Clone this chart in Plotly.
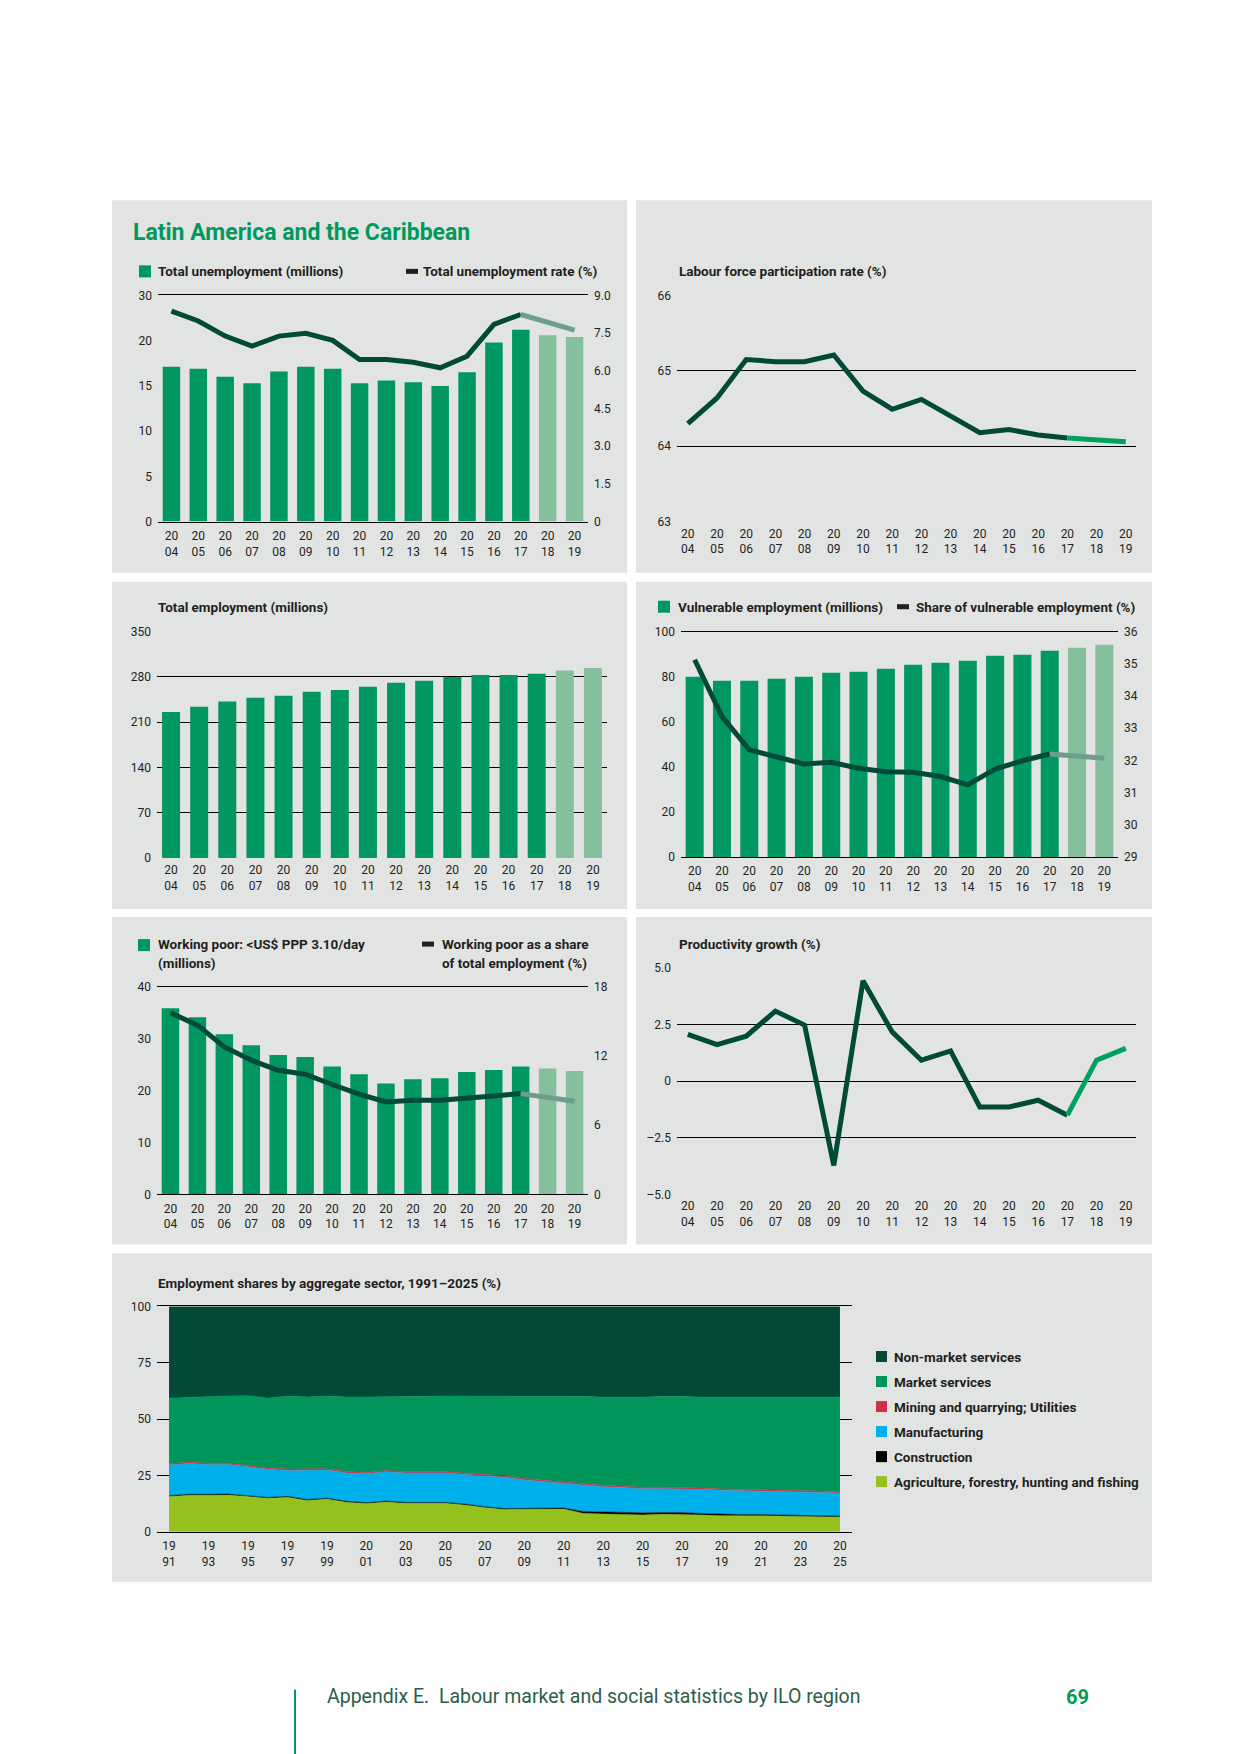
import plotly.graph_objects as go

W, H = 1240, 1754

# ---------------- data ----------------
years = list(range(2004, 2020))
last_actual_year = 2017

unemp_millions = [17.1, 16.9, 16.0, 15.3, 16.6, 17.1, 16.9, 15.3, 15.6, 15.4, 15.0, 16.5, 19.8, 21.2, 20.6, 20.4]
unemp_rate = [8.37, 7.98, 7.38, 6.98, 7.38, 7.49, 7.21, 6.45, 6.45, 6.34, 6.12, 6.58, 7.85, 8.24, 7.93, 7.62]
lfpr = [64.30, 64.64, 65.15, 65.12, 65.12, 65.21, 64.73, 64.49, 64.62, 64.40, 64.18, 64.22, 64.15, 64.11, 64.09, 64.06]
employment = [226, 234, 242, 248, 251, 257, 260, 265, 271, 274, 280, 283, 283, 285, 290, 294]
vuln_millions = [80.0, 78.2, 78.2, 79.1, 80.0, 81.8, 82.2, 83.6, 85.3, 86.2, 87.1, 89.3, 89.8, 91.6, 92.9, 94.2]
vuln_share = [35.13, 33.37, 32.33, 32.12, 31.89, 31.94, 31.76, 31.65, 31.63, 31.50, 31.24, 31.73, 31.99, 32.20, 32.15, 32.07]
wp_millions = [35.9, 34.2, 30.9, 28.8, 26.9, 26.5, 24.7, 23.2, 21.4, 22.2, 22.4, 23.6, 24.0, 24.7, 24.3, 23.8]
wp_share = [15.77, 14.70, 12.81, 11.65, 10.78, 10.43, 9.54, 8.70, 8.03, 8.17, 8.17, 8.32, 8.55, 8.75, 8.46, 8.09]
prod_growth = [2.07, 1.62, 1.99, 3.10, 2.48, -3.72, 4.44, 2.18, 0.93, 1.34, -1.14, -1.14, -0.84, -1.50, 0.93, 1.45]

sector_years = list(range(1991, 2026))
agriculture = [15.6, 16.2, 16.2, 16.3, 15.6, 14.8, 15.3, 13.9, 14.5, 13.1, 12.5, 13.2, 12.6, 12.6, 12.6, 11.9, 10.7, 9.9,
               9.9, 10.1, 10.1, 8.1, 7.9, 7.9, 7.4, 7.7, 7.7, 7.4, 7.1, 7.1, 7.1, 7.0, 6.7, 6.7, 6.5]
construction = [0.4, 0.4, 0.4, 0.4, 0.4, 0.4, 0.4, 0.4, 0.4, 0.4, 0.4, 0.4, 0.4, 0.4, 0.4, 0.4, 0.4, 0.4,
                0.4, 0.4, 0.4, 0.9, 0.8, 0.8, 1.0, 0.8, 0.8, 0.7, 0.6, 0.5, 0.5, 0.5, 0.5, 0.4, 0.4]
manufacturing = [13.7, 13.7, 13.2, 13.1, 12.8, 12.5, 11.5, 12.9, 12.5, 12.6, 12.8, 13.0, 13.1, 13.1, 13.1, 13.1, 13.7, 13.9,
                 12.7, 11.7, 11.1, 11.7, 11.3, 10.9, 10.7, 10.6, 10.6, 10.7, 10.7, 10.6, 10.3, 10.4, 10.6, 10.4, 10.3]
mining_utilities = [0.6, 0.6, 0.6, 0.6, 0.6, 0.6, 0.6, 0.6, 0.6, 0.6, 0.6, 0.6, 0.6, 0.6, 0.6, 0.6, 0.6, 0.6,
                    0.6, 0.6, 0.6, 0.6, 0.6, 0.6, 0.6, 0.6, 0.6, 0.6, 0.6, 0.6, 0.6, 0.6, 0.6, 0.6, 0.6]
market_services = [29.0, 28.8, 29.5, 29.9, 31.0, 31.0, 32.4, 32.0, 32.2, 33.1, 33.5, 32.6, 33.1, 33.4, 33.5, 34.2, 34.8, 35.4,
                   36.6, 37.6, 38.2, 38.8, 39.1, 39.5, 40.0, 40.4, 40.4, 40.3, 40.7, 40.9, 41.2, 41.2, 41.3, 41.6, 41.9]
non_market_services = [40.7, 40.3, 40.1, 39.7, 39.6, 40.7, 39.8, 40.2, 39.8, 40.2, 40.2, 40.2, 40.2, 39.9, 39.8, 39.8, 39.8, 39.8,
                       39.8, 39.6, 39.6, 39.9, 40.3, 40.3, 40.3, 39.9, 39.9, 40.3, 40.3, 40.3, 40.3, 40.3, 40.3, 40.3, 40.3]

sector_names = ["Non-market services", "Market services", "Mining and quarrying; Utilities",
                "Manufacturing", "Construction", "Agriculture, forestry, hunting and fishing"]

# ---------------- style ----------------
GREEN = "#009760"
GREEN_PROJ = "#86BF9B"
DARK = "#004A37"
LINE_PROJ_GREY = "#6E9E8B"
LINE_PROJ_GREEN = "#00A060"
PANEL = "#E2E4E3"
TXT = "#231F20"
FONT = "Roboto, 'Liberation Sans', sans-serif"
TICKFONT = dict(family=FONT, size=12, color=TXT)
LEG = 13.5
SECTOR_COLORS = {"Non-market services": "#004A37", "Market services": "#00965A",
                 "Mining and quarrying; Utilities": "#D42E45", "Manufacturing": "#00B0EB",
                 "Construction": "#000000", "Agriculture, forestry, hunting and fishing": "#95C11F"}

# vertical correction for the page capture (content appears offset/compressed vertically)
VS = 1770 / 1754
VOFF = 8


def px(x):
    return x / W


def py(y):
    return 1 - (y * VS - VOFF) / H


def xdom(x0, x1):
    return [px(x0), px(x1)]


def ydom(top, bottom):
    return [py(bottom), py(top)]


split = years.index(last_actual_year) + 1
bar_colors = [GREEN if y <= last_actual_year else GREEN_PROJ for y in years]

fig = go.Figure()
layout = dict(width=W, height=H, margin=dict(l=0, r=0, t=0, b=0), autosize=False,
              paper_bgcolor="white", plot_bgcolor="rgba(0,0,0,0)", showlegend=False,
              shapes=[], annotations=[])


def two_line(vals):
    return ["%s<br>%s" % (str(v)[:2], str(v)[2:]) for v in vals]


def xax(n, dom, rng, yname, tickvals, line=False):
    ax = dict(domain=dom, range=rng, tickmode="array", tickvals=tickvals, ticktext=two_line(tickvals),
              showgrid=False, zeroline=False, tickfont=TICKFONT, ticks="", fixedrange=True,
              anchor=yname, ticklabelstandoff=3)
    if line:
        ax.update(showline=True, linecolor="black", linewidth=1, mirror=True)
    else:
        ax.update(showline=False)
    layout["xaxis" + (str(n) if n > 1 else "")] = ax


def yax(dom, rng, tickvals, ticktext, anchor, side="left", grid=False, overlaying=None):
    d = dict(domain=dom, range=rng, tickmode="array", tickvals=tickvals, ticktext=ticktext,
             anchor=anchor, side=side, showgrid=grid, gridcolor="black", gridwidth=1,
             zeroline=False, showline=False, tickfont=TICKFONT, ticks="", ticklabelstandoff=5, fixedrange=True)
    if overlaying:
        d["overlaying"] = overlaying
    return d


def add_split_line(xs, ys, xa, ya, proj_color):
    fig.add_trace(go.Scatter(x=xs[:split], y=ys[:split], mode="lines", xaxis=xa, yaxis=ya,
                             line=dict(color=DARK, width=5), showlegend=False))
    fig.add_trace(go.Scatter(x=xs[split - 1:], y=ys[split - 1:], mode="lines", xaxis=xa, yaxis=ya,
                             line=dict(color=proj_color, width=5), showlegend=False))


bar_rng = [years[0] - 0.5, years[-1] + 0.5]
line_rng = [years[0] - 0.37, years[-1] + 0.35]

# Panel 1: unemployment
xax(1, xdom(158, 588), bar_rng, "y", years, line=True)
layout["yaxis"] = yax(ydom(296, 522), [0, 25], [0, 5, 10, 15, 20, 25], ["0", "5", "10", "15", "20", "30"], "x")
layout["yaxis2"] = yax(ydom(296, 522), [0, 9], [0, 1.5, 3, 4.5, 6, 7.5, 9],
                       ["0", "1.5", "3.0", "4.5", "6.0", "7.5", "9.0"], "x", side="right", overlaying="y")
fig.add_trace(go.Bar(x=years, y=unemp_millions, marker=dict(color=bar_colors, line=dict(width=0)), width=0.65,
                     xaxis="x", yaxis="y", showlegend=False))
add_split_line(years, unemp_rate, "x", "y2", LINE_PROJ_GREY)

# Panel 2: LFPR
xax(2, xdom(677, 1136), line_rng, "y3", years)
layout["yaxis3"] = yax(ydom(296, 522), [63, 66], [63, 64, 65, 66], ["63", "64", "65", "66"], "x2", grid=True)
add_split_line(years, lfpr, "x2", "y3", LINE_PROJ_GREEN)

# Panel 3: total employment
xax(3, xdom(157, 607), bar_rng, "y4", years)
layout["yaxis4"] = yax(ydom(632, 858), [0, 350], [0, 70, 140, 210, 280, 350],
                       ["0", "70", "140", "210", "280", "350"], "x3", grid=True)
fig.add_trace(go.Bar(x=years, y=employment, marker=dict(color=bar_colors, line=dict(width=0)), width=0.64,
                     xaxis="x3", yaxis="y4", showlegend=False))

# Panel 4: vulnerable employment
xax(4, xdom(681, 1118), bar_rng, "y5", years, line=True)
layout["yaxis5"] = yax(ydom(632, 857), [0, 100], [0, 20, 40, 60, 80, 100],
                       ["0", "20", "40", "60", "80", "100"], "x4")
layout["yaxis6"] = yax(ydom(632, 857), [29, 36], [29, 30, 31, 32, 33, 34, 35, 36],
                       ["29", "30", "31", "32", "33", "34", "35", "36"], "x4", side="right", overlaying="y5")
fig.add_trace(go.Bar(x=years, y=vuln_millions, marker=dict(color=bar_colors, line=dict(width=0)), width=0.66,
                     xaxis="x4", yaxis="y5", showlegend=False))
add_split_line(years, vuln_share, "x4", "y6", LINE_PROJ_GREY)

# Panel 5: working poor
xax(5, xdom(157, 588), bar_rng, "y7", years, line=True)
layout["yaxis7"] = yax(ydom(987, 1194), [0, 40], [0, 10, 20, 30, 40], ["0", "10", "20", "30", "40"], "x5")
layout["yaxis8"] = yax(ydom(987, 1194), [0, 18], [0, 6, 12, 18], ["0", "6", "12", "18"], "x5",
                       side="right", overlaying="y7")
fig.add_trace(go.Bar(x=years, y=wp_millions, marker=dict(color=bar_colors, line=dict(width=0)), width=0.65,
                     xaxis="x5", yaxis="y7", showlegend=False))
add_split_line(years, wp_share, "x5", "y8", LINE_PROJ_GREY)

# Panel 6: productivity
xax(6, xdom(677, 1136), line_rng, "y9", years)
layout["yaxis9"] = yax(ydom(968, 1194), [-5, 5], [-5, -2.5, 0, 2.5, 5],
                       ["\u20135.0", "\u20132.5", "0", "2.5", "5.0"], "x6", grid=True)
add_split_line(years, prod_growth, "x6", "y9", LINE_PROJ_GREEN)

# Panel 7: sector shares
pad = 0.61
xax(7, xdom(157, 852), [sector_years[0] - pad, sector_years[-1] + pad], "y10", sector_years[::2], line=True)
layout["yaxis10"] = yax(ydom(1306, 1531), [0, 100], [0, 25, 50, 75, 100], ["0", "25", "50", "75", "100"],
                        "x7", grid=True)
stack = [("Agriculture, forestry, hunting and fishing", agriculture), ("Construction", construction),
         ("Manufacturing", manufacturing), ("Mining and quarrying; Utilities", mining_utilities),
         ("Market services", market_services), ("Non-market services", non_market_services)]
for name, vals in stack:
    c = SECTOR_COLORS[name]
    fig.add_trace(go.Scatter(x=sector_years, y=vals, mode="lines", stackgroup="s", fillcolor=c,
                             line=dict(color=c, width=0.5), xaxis="x7", yaxis="y10", name=name, showlegend=False))

# ---------------- panels, legends, texts ----------------
shapes = layout["shapes"]
ann = layout["annotations"]

for (x0, y0, x1, y1) in [(112, 201, 627, 573), (636, 201, 1152, 573), (112, 582, 627, 909), (636, 582, 1152, 909),
                         (112, 917, 627, 1244), (636, 917, 1152, 1244), (112, 1253, 1152, 1581)]:
    shapes.append(dict(type="rect", xref="paper", yref="paper", x0=px(x0), x1=px(x1), y0=py(y1), y1=py(y0),
                       fillcolor=PANEL, line=dict(width=0), layer="below"))


def square(x, y, color, size=12):
    shapes.append(dict(type="rect", xref="paper", yref="paper", x0=px(x), x1=px(x + size),
                       y0=py(y + size / 2), y1=py(y - size / 2), fillcolor=color, line=dict(width=0)))


def dash(x, y, color=TXT, w=12):
    shapes.append(dict(type="rect", xref="paper", yref="paper", x0=px(x), x1=px(x + w),
                       y0=py(y + 2.5), y1=py(y - 2.5), fillcolor=color, line=dict(width=0)))


def text(x, y, s, size=LEG, bold=True, color=TXT, anchor="left"):
    ann.append(dict(xref="paper", yref="paper", x=px(x), y=py(y), xanchor=anchor, yanchor="middle",
                    text=("<b>%s</b>" % s) if bold else s, showarrow=False,
                    font=dict(family=FONT, size=size, color=color), align="left"))


text(131, 233, "Latin America and the Caribbean", size=23, color="#00995C")
square(139, 272, GREEN)
text(156, 272, "Total unemployment (millions)")
dash(406, 272)
text(421, 272, "Total unemployment rate (%)")

text(677, 272, "Labour force participation rate (%)")
text(156, 607, "Total employment (millions)")

square(658, 607, GREEN)
text(676, 607, "Vulnerable employment (millions)")
dash(897, 607)
text(914, 607, "Share of vulnerable employment (%)")

square(138, 945, GREEN)
text(156, 944, "Working poor: &lt;US$ PPP 3.10/day")
text(156, 963, "(millions)")
dash(422, 944)
text(440, 944, "Working poor as a share")
text(440, 963, "of total employment (%)")

text(677, 944, "Productivity growth (%)")
text(156, 1283, "Employment shares by aggregate sector, 1991\u20132025 (%)")

for i, name in enumerate(sector_names):
    yy = 1356 + 25 * i
    square(876, yy, SECTOR_COLORS[name], size=11)
    text(892, yy, name, size=LEG)

# footer
shapes.append(dict(type="line", xref="paper", yref="paper", x0=px(295), x1=px(295), y0=py(1770), y1=py(1689),
                   line=dict(color="#009A5B", width=2)))
text(325, 1696, "Appendix E.\u00a0 Labour market and social statistics by ILO region", size=19.5, bold=False,
     color="#2B5E4A")
text(1091, 1696, "69", size=20, bold=True, color="#009A5B", anchor="right")

fig.update_layout(**layout)
fig.write_html("out.html", config={"displayModeBar": False, "staticPlot": True},
               post_script="document.body.style.margin='0';")
